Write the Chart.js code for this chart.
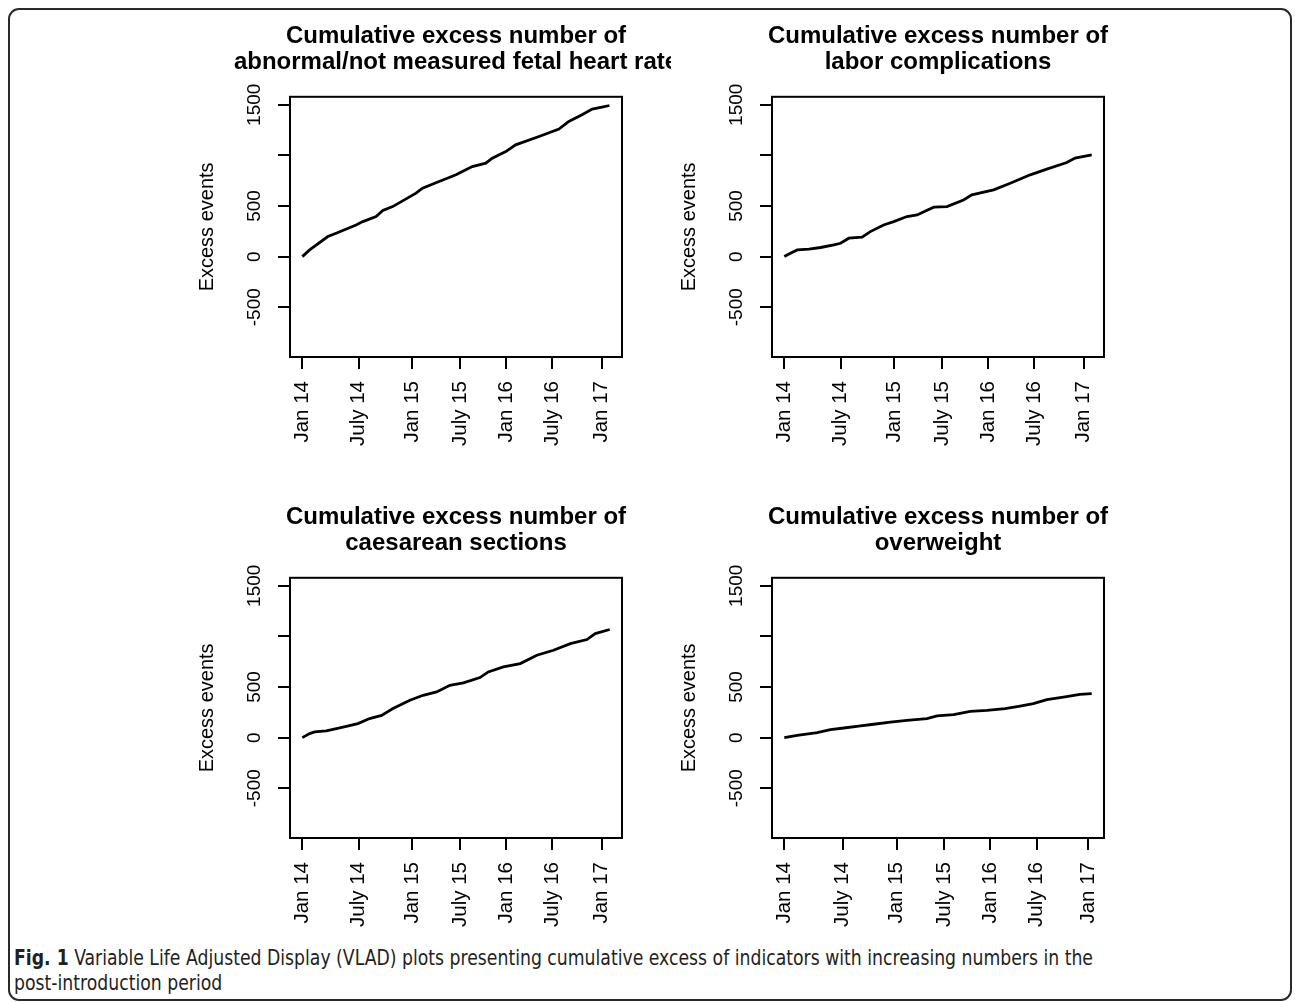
<!DOCTYPE html>
<html>
<head>
<meta charset="utf-8">
<script src="https://cdn.jsdelivr.net/npm/chart.js@4.4.1/dist/chart.umd.min.js"></script>
<style>
  html, body { margin: 0; padding: 0; background: #fff; }
  body { width: 1295px; height: 1002px; position: relative; overflow: hidden; }
  .frame { position: absolute; left: 8px; top: 8px; width: 1284px; height: 993px;
           border: 2px solid #2a2a2a; border-radius: 11px; box-sizing: border-box; }
  .panel { position: absolute; overflow: hidden; }
  .panel canvas { position: absolute; left: 0; top: 0; }
  .caption { position: absolute; left: 14px; font-family: "Liberation Sans Narrow", "DejaVu Sans Condensed", "Open Sans", sans-serif;
             font-size: 22px; line-height: 25px; color: #231f20; white-space: nowrap; transform-origin: 0 50%; }
</style>
</head>
<body>
<div class="frame"></div>
<div class="panel" style="left:180px;top:10px;width:491px;height:450px"><canvas id="c1" width="552" height="450"></canvas></div>
<div class="panel" style="left:662px;top:10px;width:552px;height:450px"><canvas id="c2" width="552" height="450"></canvas></div>
<div class="panel" style="left:180px;top:491px;width:491px;height:450px"><canvas id="c3" width="552" height="450"></canvas></div>
<div class="panel" style="left:662px;top:491px;width:552px;height:450px"><canvas id="c4" width="552" height="450"></canvas></div>
<div class="caption" id="cap1" style="top:945px"><b>Fig. 1</b> Variable Life Adjusted Display (VLAD) plots presenting cumulative excess of indicators with increasing numbers in the</div>
<div class="caption" id="cap2" style="top:970px">post-introduction period</div>
<script>
// Position along the observation sequence (0 = start, 1000 = end) and cumulative excess events
const fhrX = [0, 24, 83, 110, 175, 197, 240, 262, 294, 370, 391, 445, 500, 553, 597, 618, 662, 694, 770, 835, 867, 910, 943, 975, 999];
const fhrY = [0, 66, 198, 231, 313, 346, 396, 455, 494, 627, 676, 742, 808, 890, 923, 973, 1038, 1104, 1187, 1260, 1335, 1401, 1457, 1477, 1493];

const laborX = [0, 20, 42, 80, 118, 161, 183, 210, 253, 280, 323, 356, 399, 432, 486, 529, 583, 610, 681, 735, 800, 854, 919, 946, 1000];
const laborY = [0, 33, 66, 73, 90, 116, 132, 182, 192, 247, 313, 346, 396, 412, 488, 494, 560, 610, 659, 725, 808, 864, 930, 973, 1006];

const csX = [0, 24, 40, 78, 111, 143, 181, 219, 258, 295, 350, 393, 437, 480, 524, 578, 605, 654, 709, 763, 817, 872, 926, 953, 1000];
const csY = [0, 40, 56, 66, 89, 112, 138, 188, 220, 287, 369, 418, 451, 517, 540, 593, 649, 698, 731, 814, 863, 929, 969, 1028, 1068];

const owX = [0, 42, 107, 150, 194, 248, 291, 345, 399, 464, 497, 551, 605, 659, 718, 767, 810, 854, 908, 962, 1000];
const owY = [0, 23, 49, 79, 95, 115, 132, 154, 171, 188, 214, 227, 260, 270, 287, 312, 336, 376, 401, 428, 435];

// Date ticks along the sequence
const dateLabels = ['Jan 14', 'July 14', 'Jan 15', 'July 15', 'Jan 16', 'July 16', 'Jan 17'];
const dateTicks = [0, 183, 358, 513, 663, 812, 974];
const owDateTicks = [0, 190, 365, 521, 670, 821, 989];

// Vertical axis
const yTickValues = [-500, 0, 500, 1000, 1500];
const yTickLabels = ['-500', '0', '500', '', '1500'];
const yMin = -992, yMax = 1579;
const xMin = -40, xMax = 1040;

const titles = [
  ['Cumulative excess number of', 'abnormal/not measured fetal heart rate'],
  ['Cumulative excess number of', 'labor complications'],
  ['Cumulative excess number of', 'caesarean sections'],
  ['Cumulative excess number of', 'overweight']
];

Chart.defaults.font.family = '"Liberation Sans", Arial, Helvetica, sans-serif';
Chart.defaults.color = '#000';

// Box around the plotting region
const boxFrame = {
  id: 'boxFrame',
  afterDraw(chart) {
    const { ctx, chartArea: a } = chart;
    ctx.save();
    ctx.strokeStyle = '#000';
    ctx.lineWidth = 2;
    ctx.strokeRect(a.left, a.top, a.right - a.left, a.bottom - a.top);
    ctx.restore();
  }
};

function makePanel(id, title, xs, ys, ticksAt) {
  const tickGrid = { drawOnChartArea: false, drawTicks: true, tickLength: 12, color: '#000', lineWidth: 2 };
  return new Chart(document.getElementById(id), {
    type: 'line',
    data: {
      datasets: [{
        data: xs.map((x, i) => ({ x: x, y: ys[i] })),
        borderColor: '#000',
        borderWidth: 2.8,
        pointRadius: 0,
        tension: 0,
        fill: false
      }]
    },
    options: {
      responsive: false,
      animation: false,
      events: [],
      layout: { padding: 0 },
      plugins: {
        legend: { display: false },
        tooltip: { enabled: false },
        title: {
          display: true,
          text: title,
          color: '#000',
          font: { size: 24, weight: 'bold', lineHeight: 1.1 },
          padding: { top: 13, bottom: 21 }
        }
      },
      scales: {
        x: {
          type: 'linear',
          position: 'bottom',
          min: xMin,
          max: xMax,
          afterBuildTicks: s => { s.ticks = ticksAt.map(v => ({ value: v })); },
          afterFit: s => { s.height = 103; },
          ticks: {
            autoSkip: false,
            minRotation: 90,
            maxRotation: 90,
            padding: 12,
            font: { size: 20.5 },
            color: '#000',
            callback: v => dateLabels[ticksAt.indexOf(v)]
          },
          grid: tickGrid,
          border: { display: false }
        },
        y: {
          type: 'linear',
          position: 'left',
          min: yMin,
          max: yMax,
          afterBuildTicks: s => { s.ticks = yTickValues.map(v => ({ value: v })); },
          afterFit: s => { s.width = 110; },
          ticks: {
            autoSkip: false,
            minRotation: 90,
            maxRotation: 90,
            crossAlign: 'center',
            padding: 2,
            font: { size: 19 },
            color: '#000',
            callback: v => yTickLabels[yTickValues.indexOf(v)]
          },
          grid: tickGrid,
          border: { display: false },
          title: {
            display: true,
            text: 'Excess events',
            color: '#000',
            font: { size: 20 },
            padding: { top: 15, bottom: 0 }
          }
        },
        yRight: {
          type: 'linear',
          position: 'right',
          display: true,
          ticks: { display: false },
          grid: { display: false },
          border: { display: false },
          afterFit: s => { s.width = 110; }
        }
      }
    },
    plugins: [boxFrame]
  });
}

makePanel('c1', titles[0], fhrX, fhrY, dateTicks);
makePanel('c2', titles[1], laborX, laborY, dateTicks);
makePanel('c3', titles[2], csX, csY, dateTicks);
makePanel('c4', titles[3], owX, owY, owDateTicks);

// Fit the caption's first line to its printed width
function fitCaption() {
  const c1 = document.getElementById('cap1');
  const c2 = document.getElementById('cap2');
  const w = c1.getBoundingClientRect().width;
  const k = 1079 / w;
  c1.style.transform = 'scaleX(' + k + ')';
  c2.style.transform = 'scaleX(' + k + ')';
}
fitCaption();
</script>
</body>
</html>
